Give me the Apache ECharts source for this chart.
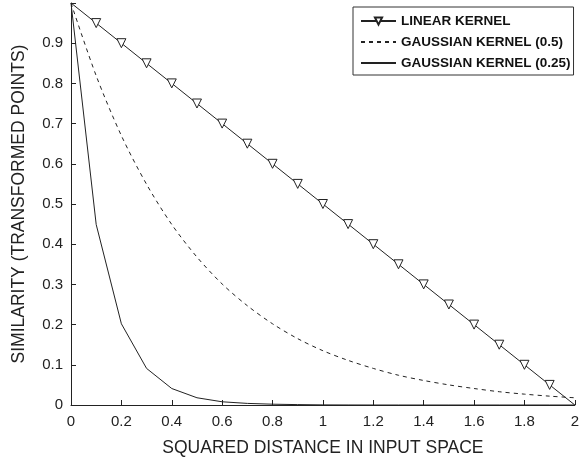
<!DOCTYPE html>
<html><head><meta charset="utf-8">
<script src="https://cdn.jsdelivr.net/npm/echarts@6/dist/echarts.min.js"></script>
<style>html,body{margin:0;padding:0;background:#fff}#c{width:582px;height:462px}</style>
</head><body><div id="c"></div>
<script>
var xValues = [0,0.1,0.2,0.3,0.4,0.5,0.6,0.7,0.8,0.9,1.0,1.1,1.2,1.3,1.4,1.5,1.6,1.7,1.8,1.9,2.0];
var linearKernel = [1,0.95,0.9,0.85,0.8,0.75,0.7,0.65,0.6,0.55,0.5,0.45,0.4,0.35,0.3,0.25,0.2,0.15,0.1,0.05,0];
var gaussian05 = [1,0.819,0.670,0.549,0.449,0.368,0.301,0.247,0.202,0.165,0.135,0.111,0.091,0.074,0.061,0.050,0.041,0.033,0.027,0.022,0.018];
var gaussian025 = [1,0.449,0.202,0.091,0.041,0.018,0.008,0.004,0.002,0.001,0.0003,0.0001,0,0,0,0,0,0,0,0,0];
var seriesNames = ['LINEAR KERNEL','GAUSSIAN KERNEL (0.5)','GAUSSIAN KERNEL (0.25)'];
var xAxisTitle = 'SQUARED DISTANCE IN INPUT SPACE';
var yAxisTitle = 'SIMILARITY (TRANSFORMED POINTS)';

function pairs(ys){ return xValues.map(function(x,i){ return [x, ys[i]]; }); }
var ink = '#222';
var linData = xValues.map(function(x,i){
  var d = {value:[x, linearKernel[i]]};
  if (i===0 || i===xValues.length-1) d.symbol = 'none';
  return d;
});
var hiddenMark = {color:'rgba(0,0,0,0)', borderColor:'rgba(0,0,0,0)', borderWidth:0};

var chart = echarts.init(document.getElementById('c'), null, {renderer:'canvas'});
chart.setOption({
  animation:false,
  backgroundColor:'#fff',
  textStyle:{fontFamily:'Liberation Sans, Arial, sans-serif'},
  grid:{left:71, right:1, top:3, bottom:56, containLabel:false},
  legend:{
    orient:'vertical', left:353, top:7,
    padding:[7,3,5,7], itemGap:7, itemWidth:35, itemHeight:9,
    borderColor:'#333', borderWidth:1, backgroundColor:'#fff',
    textStyle:{fontFamily:'Liberation Sans, Arial, sans-serif', fontWeight:'bold', fontSize:13.5, lineHeight:14, color:'#111'},
    data:[{name:seriesNames[0]},{name:seriesNames[1], itemStyle:hiddenMark},{name:seriesNames[2], itemStyle:hiddenMark}]
  },
  xAxis:{
    type:'value', min:0, max:2, interval:0.2,
    name:xAxisTitle, nameLocation:'middle', nameGap:34,
    nameTextStyle:{fontSize:17.5, color:'#222'},
    axisLine:{lineStyle:{color:ink, width:1}},
    axisTick:{inside:true, length:5, lineStyle:{color:ink}},
    axisLabel:{fontSize:15, color:'#222', margin:9},
    splitLine:{show:false}
  },
  yAxis:{
    type:'value', min:0, max:1, interval:0.1,
    name:yAxisTitle, nameLocation:'middle', nameGap:43,
    nameTextStyle:{fontSize:17.5, color:'#222'},
    axisLine:{show:true, lineStyle:{color:ink, width:1}},
    axisTick:{show:true, inside:true, length:5, lineStyle:{color:ink}},
    axisLabel:{fontSize:15, color:'#222', margin:8, formatter:function(v){ return v>=1 ? '' : String(+v.toFixed(1)); }},
    splitLine:{show:false}
  },
  series:[
    {name:seriesNames[0], type:'line', data:linData, symbol:'triangle', symbolRotate:180, symbolSize:9,
     showAllSymbol:true,
     itemStyle:{color:'#fff', borderColor:ink, borderWidth:1},
     lineStyle:{color:ink, width:1}, z:3},
    {name:seriesNames[1], type:'line', data:pairs(gaussian05), symbol:'none', smooth:0.3,
     itemStyle:{color:ink},
     lineStyle:{color:ink, width:1, type:[4,4]}},
    {name:seriesNames[2], type:'line', data:pairs(gaussian025), symbol:'none',
     itemStyle:{color:ink},
     lineStyle:{color:ink, width:1}}
  ]
});
</script></body></html>
